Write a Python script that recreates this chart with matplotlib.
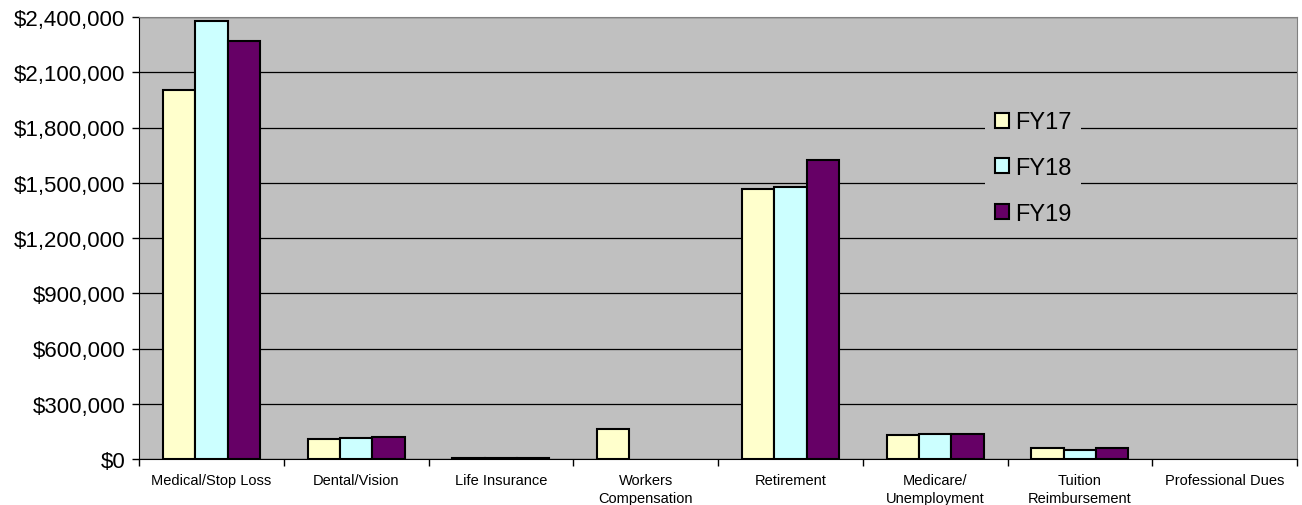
import numpy as np
import matplotlib.pyplot as plt
from matplotlib.patches import Patch
from matplotlib.ticker import FuncFormatter, FixedLocator

plt.rcParams['font.family'] = ['Liberation Sans', 'DejaVu Sans']

categories = ["Medical/Stop Loss", "Dental/Vision", "Life Insurance", "Workers\nCompensation",
              "Retirement", "Medicare/\nUnemployment", "Tuition\nReimbursement", "Professional Dues"]
fy17 = [2003000, 107000, 4000, 165000, 1464000, 132000, 58000, 0]
fy18 = [2378000, 116000, 4000, 0, 1475000, 138000, 48000, 0]
fy19 = [2270000, 121000, 4000, 0, 1624000, 137000, 60000, 0]
series = ["FY17", "FY18", "FY19"]
colors = ["#FFFFCC", "#CCFFFF", "#660066"]

fig = plt.figure(figsize=(13.02, 5.06), dpi=100)
ax = fig.add_axes([139/1302, 46/506, (1297-139)/1302, (460-18)/506])
ax.set_facecolor("#C0C0C0")

x = np.arange(len(categories))
w = 0.223
for i, vals in enumerate([fy17, fy18, fy19]):
    vals = np.array(vals)
    keep = vals > 0  # empty values draw nothing
    ax.bar(x[keep] + (i - 1) * w, vals[keep], w, color=colors[i], edgecolor="black",
           linewidth=1.5, zorder=3)

ax.set_xlim(-0.5, len(categories) - 0.5)
ax.set_ylim(0, 2400000)
ax.set_yticks(np.arange(0, 2400001, 300000))
ax.yaxis.set_major_formatter(FuncFormatter(lambda v, p: "${:,.0f}".format(v)))
ax.yaxis.grid(True, color="black", linewidth=0.9, zorder=0)
ax.set_axisbelow(True)
ax.tick_params(axis="y", labelsize=16, length=5, width=1, pad=5)

ax.set_xticks(x)
ax.set_xticklabels(categories, fontsize=10.5, linespacing=1.35)
ax.tick_params(axis="x", which="major", length=0, pad=10)
ax.xaxis.set_minor_locator(FixedLocator(np.arange(-0.5, len(categories), 1.0)))
ax.tick_params(axis="x", which="minor", length=5, width=1)

ax.spines["top"].set_color("#808080")
ax.spines["right"].set_color("#808080")
ax.spines["left"].set_color("black")
ax.spines["bottom"].set_color("black")

handles = [Patch(facecolor=c, edgecolor="black", linewidth=1.5) for c in colors]
leg = ax.legend(handles, series, loc="center", bbox_to_anchor=(1033/1302, 1 - 169/506),
                bbox_transform=fig.transFigure, fontsize=17, handlelength=0.6, handleheight=0.6,
                handletextpad=0.25, labelspacing=1.0, borderpad=0.4, frameon=True,
                facecolor="#C0C0C0", edgecolor="none", framealpha=1, fancybox=False)
leg.set_zorder(5)

fig.savefig("out.png", dpi=100)
